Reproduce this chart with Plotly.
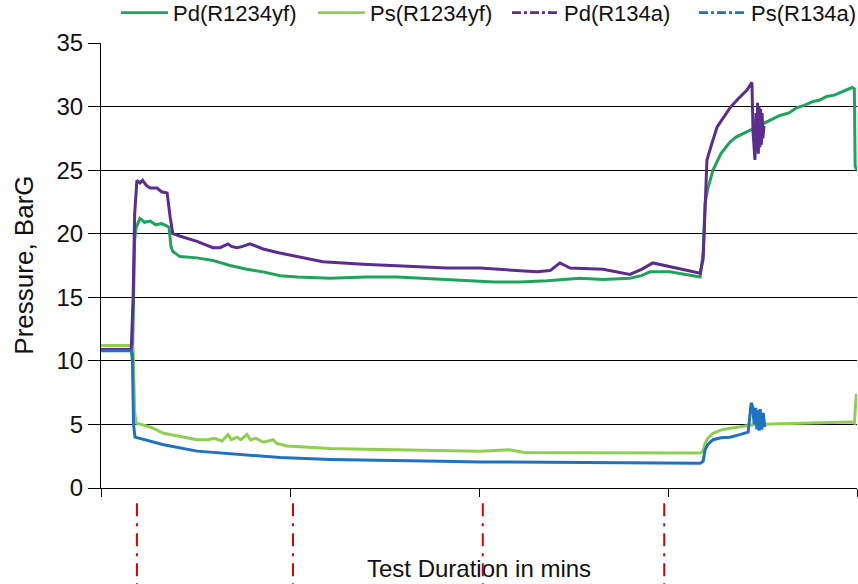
import plotly.graph_objects as go

# ---------------- data (time in minutes, pressure in BarG) ----------------
pd_yf_t = [0, 8.0, 8.3, 8.6, 8.9, 9.3, 10.3, 11.5, 13, 14.5, 16, 17.5, 18.0, 18.5, 19.0, 20.9,
           25.4, 29.6, 34.1, 38.6, 42.9, 47.4, 52, 60.6, 70, 78.3, 86, 92, 97.6, 104, 110.8,
           118, 124.1, 126.7, 132.8, 139.9, 143, 145.2, 150.5, 155, 158.5, 159.3,
           159.8, 160.5, 161.9, 164, 166.4, 168, 170, 173, 176, 179.6, 182, 184, 186, 188.4,
           190, 192, 194, 196.3, 198.1, 198.7, 199.3, 199.5, 200]
pd_yf_v = [10.9, 10.9, 10.0, 14.0, 19.5, 20.5, 21.2, 20.9, 21.0, 20.7, 20.8, 20.6, 20.5, 19.0,
           18.6, 18.2, 18.1, 17.9, 17.5, 17.2, 17.0, 16.7, 16.6, 16.5, 16.6, 16.6, 16.5, 16.4,
           16.3, 16.2, 16.2, 16.3, 16.4, 16.5, 16.4, 16.5, 16.7, 17.0, 17.0, 16.8, 16.6, 18.5,
           22.4, 23.5, 25.0, 26.3, 27.2, 27.6, 27.9, 28.3, 28.8, 29.3, 29.5, 29.9, 30.1, 30.4,
           30.5, 30.8, 30.9, 31.2, 31.4, 31.5, 31.4, 25.3, 25.0]

ps_yf_t = [0, 8.0, 8.5, 8.9, 9.3, 13, 16.6, 20, 25.4, 28, 30, 32, 33.6, 34.5, 36, 37, 38.6,
           39.5, 41, 43, 45.5, 46.5, 49.2, 55, 60.6, 70, 80, 90, 100.3, 108, 112, 120, 130,
           140, 150, 158.5, 159.3, 159.8, 160.5, 161.9, 164, 166.4, 170, 173, 180, 185, 190,
           195, 198.5, 199.3, 199.5, 199.8, 200]
ps_yf_v = [11.2, 11.2, 11.0, 6.0, 5.1, 4.8, 4.3, 4.1, 3.8, 3.8, 3.9, 3.7, 4.2, 3.8, 4.0, 3.8,
           4.2, 3.8, 3.9, 3.6, 3.8, 3.5, 3.3, 3.2, 3.1, 3.05, 3.0, 2.95, 2.9, 3.0, 2.8, 2.78,
           2.78, 2.78, 2.78, 2.75, 2.9, 3.5, 3.9, 4.3, 4.55, 4.7, 4.85, 5.0, 5.05, 5.1, 5.15,
           5.2, 5.2, 5.1, 6.5, 7.3, 7.3]

pd_134_t = [0, 8.0, 8.5, 8.9, 9.5, 10.3, 11, 12, 13, 14.8, 16, 17.5, 18.3, 19.0, 21, 25.4,
            29.6, 31.5, 33.6, 34.5, 36.0, 37.5, 39.4, 41, 42.9, 47, 51.9, 58.7, 69.3, 82.5,
            91.5, 100.3, 106.3, 115.3, 118.8, 121.4, 124.1, 132.8, 139.9, 143, 146.0, 150.5,
            158.5, 159.3, 160.3, 161.5, 163, 166.4, 168.5, 170.9, 172.2, 172.5, 173.0, 173.3,
            173.5, 173.7, 173.9, 174.1, 174.3, 174.5, 174.7, 174.9, 175.1, 175.4]
pd_134_v = [10.9, 10.9, 15.0, 21.5, 24.2, 24.0, 24.2, 23.8, 23.6, 23.6, 23.3, 23.2, 21.3, 20.0,
            19.8, 19.4, 18.9, 18.9, 19.2, 19.0, 18.9, 19.0, 19.2, 19.0, 18.8, 18.5, 18.2, 17.8,
            17.6, 17.4, 17.3, 17.3, 17.2, 17.0, 17.1, 17.7, 17.3, 17.2, 16.8, 17.2, 17.7, 17.4,
            16.9, 18.0, 25.8, 27.0, 28.4, 29.9, 30.6, 31.3, 31.9, 28.0, 25.8, 29.5, 26.5, 30.3,
            26.3, 30.0, 26.8, 29.8, 27.0, 29.5, 27.5, 28.5]

ps_134_t = [0, 8.0, 8.3, 8.6, 9.0, 10.3, 16.6, 25.4, 34.1, 47.4, 60.6, 75, 90, 100, 120, 140,
            158.5, 159.3, 159.8, 160.5, 161.9, 164, 166.4, 169, 171.2, 171.7, 172.0, 172.4,
            172.8, 173.2, 173.5, 173.8, 174.1, 174.4, 174.8, 175.2, 175.6]
ps_134_v = [10.8, 10.8, 10.5, 5.0, 4.0, 3.9, 3.4, 2.9, 2.7, 2.4, 2.25, 2.15, 2.1, 2.05, 2.0,
            1.95, 1.95, 2.1, 3.0, 3.4, 3.8, 3.95, 4.0, 4.2, 4.4, 5.8, 6.7, 6.4, 5.0, 6.3, 4.6,
            6.1, 4.5, 6.2, 4.6, 5.9, 4.8]

series_names = ["Pd(R1234yf)", "Ps(R1234yf)", "Pd(R134a)", "Ps(R134a)"]
series_colors = ["#1fa45e", "#8fcf4f", "#5a2d8e", "#1f72c2"]
legend_dashes = ["solid", "solid", "dashdot", "dashdot"]
legend_x = [0.0198, 0.2804, 0.5370, 0.7844]   # paper-x of each legend entry

event_times = [9.5, 50.8, 101, 149]
x_ticks = [0, 50, 100, 150, 200]

FONT = "Liberation Sans, Arial, sans-serif"

fig = go.Figure()
data = [(pd_yf_t, pd_yf_v), (ps_yf_t, ps_yf_v), (pd_134_t, pd_134_v), (ps_134_t, ps_134_v)]
for (t, v), name, col in zip(data, series_names, series_colors):
    fig.add_trace(go.Scatter(x=t, y=v, mode="lines", name=name, showlegend=False,
                             line=dict(color=col, width=3)))

legend_ids = ["legend", "legend2", "legend3", "legend4"]
legend_layouts = {}
for i, (name, col, dash) in enumerate(zip(series_names, series_colors, legend_dashes)):
    fig.add_trace(go.Scatter(x=[None], y=[None], mode="lines", name=name,
                             legend=legend_ids[i],
                             line=dict(color=col, width=2.6, dash=dash)))
    legend_layouts[legend_ids[i]] = dict(
        orientation="h", x=legend_x[i], xanchor="left", y=1.115, yanchor="top",
        font=dict(size=22, family=FONT, color="#111"), itemwidth=47,
        bgcolor="rgba(0,0,0,0)")

for t in event_times:
    fig.add_shape(type="line", xref="x", yref="paper", x0=t, x1=t, y0=-0.034, y1=-0.22,
                  line=dict(color="#d90000", width=2, dash="13px,7px,3px,7px"))

fig.add_annotation(text="Test Duration in mins", xref="paper", yref="paper", x=0.5, y=-0.18,
                   xanchor="center", yanchor="middle", showarrow=False,
                   font=dict(size=24, color="#111", family=FONT))
fig.add_annotation(text="Pressure, BarG", xref="paper", yref="paper", x=-0.103, y=0.5,
                   xanchor="center", yanchor="middle", showarrow=False, textangle=-90,
                   font=dict(size=26, color="#111", family=FONT))

fig.update_layout(
    width=858, height=584,
    margin=dict(l=101, r=1, t=43, b=96, autoexpand=False),
    paper_bgcolor="white", plot_bgcolor="white",
    font=dict(family=FONT, color="#111"),
    showlegend=True,
    xaxis=dict(range=[0, 200], tickvals=x_ticks, showticklabels=False, ticks="outside",
               ticklen=8, tickcolor="#000", showline=True, linecolor="#000", linewidth=1,
               showgrid=False, zeroline=False),
    yaxis=dict(range=[0, 35], dtick=5, ticks="outside", ticklen=12, tickcolor="#000",
               showline=True, linecolor="#000", linewidth=1, showgrid=True,
               gridcolor="#000", gridwidth=1, zeroline=False,
               tickfont=dict(size=24, family=FONT, color="#111")),
    **legend_layouts,
)

fig.write_html("out.html")
